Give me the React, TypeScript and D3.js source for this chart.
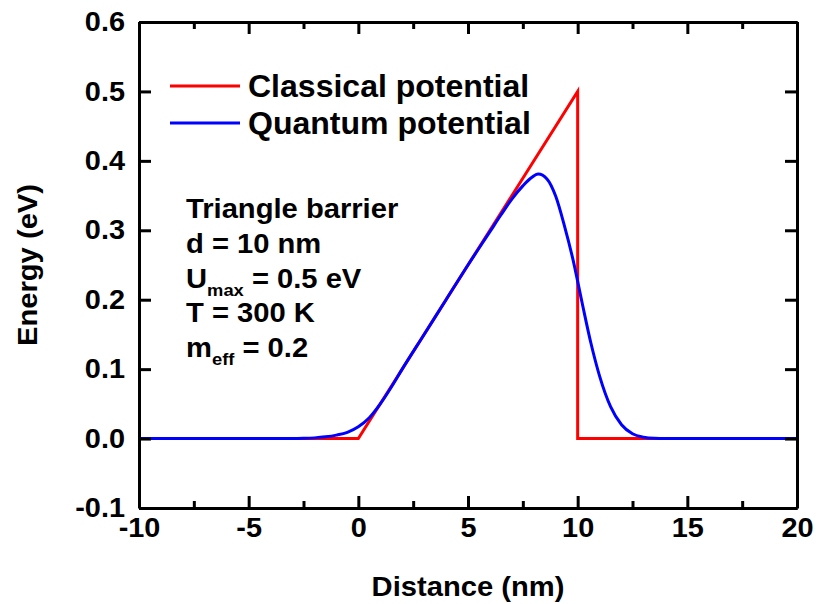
import React, {useEffect, useRef} from 'react';
import * as d3 from 'd3';

// classical triangle barrier
const classicalX = [-10, 0, 10, 10, 20];
const classicalY = [0, 0, 0.5, 0, 0];

// quantum (smoothed) potential
const quantumX = [-10, -3, -2.5, -2, -1.5, -1, -0.5, 0, 0.5, 1, 1.5, 2, 3, 4, 5, 6, 6.5, 7, 7.5, 7.9, 8.2, 8.6, 9, 9.4, 9.8, 10.2, 10.6, 11, 11.5, 12, 12.5, 13, 13.5, 14, 20];
const quantumY = [0, 0, 0.0003, 0.001, 0.0025, 0.005, 0.009, 0.017, 0.03, 0.05, 0.074, 0.1, 0.15, 0.2, 0.25, 0.298, 0.322, 0.345, 0.364, 0.376, 0.381, 0.374, 0.349, 0.306, 0.256, 0.196, 0.138, 0.09, 0.046, 0.02, 0.007, 0.002, 0.0003, 0, 0];

const xMajor = [-10, -5, 0, 5, 10, 15, 20];
const xMinor = [-7.5, -2.5, 2.5, 7.5, 12.5, 17.5];
const yMajor = [-0.1, 0, 0.1, 0.2, 0.3, 0.4, 0.5, 0.6];

const legendLabels = ["Classical potential", "Quantum potential"];
const colors = ["#ff0000", "#0000ff"];

function App() {
    const svgRef = useRef(null);

    const width = 816;
    const height = 604;
    const left = 139, right = 797, top = 22, bottom = 508;

    useEffect(() => {
        const svg = d3.select(svgRef.current);
        svg.selectAll("*").remove();

        const xScale = d3.scaleLinear().domain([-10, 20]).range([left, right]);
        const yScale = d3.scaleLinear().domain([-0.1, 0.6]).range([bottom, top]);

        const font = "'Liberation Sans', Arial, sans-serif";
        const stretch = 1.07; // the original text is a bit wider than Arial

        // lines
        const classical = classicalX.map((x, i) => [x, classicalY[i]]);
        const quantum = quantumX.map((x, i) => [x, quantumY[i]]);

        const straight = d3.line().x(d => xScale(d[0])).y(d => yScale(d[1]));
        const smooth = d3.line().x(d => xScale(d[0])).y(d => yScale(d[1])).curve(d3.curveMonotoneX);

        svg.append("path")
            .attr("d", straight(classical))
            .attr("fill", "none")
            .attr("stroke", colors[0])
            .attr("stroke-width", 3);

        svg.append("path")
            .attr("d", smooth(quantum))
            .attr("fill", "none")
            .attr("stroke", colors[1])
            .attr("stroke-width", 3);

        // axes, ticks pointing inward
        const styleAxis = (g) => {
            g.selectAll(".domain").attr("stroke", "#000").attr("stroke-width", 3);
            g.selectAll(".tick line").attr("stroke", "#000").attr("stroke-width", 3);
            g.selectAll("text")
                .attr("fill", "#000")
                .attr("font-family", font)
                .attr("font-weight", "bold")
                .attr("font-size", 27);
        };

        const xLabels = svg.append("g")
            .attr("transform", "translate(0," + bottom + ")")
            .call(d3.axisBottom(xScale).tickValues(xMajor).tickSize(-12).tickSizeOuter(0).tickPadding(10).tickFormat(d => String(d)))
            .call(styleAxis);
        xLabels.selectAll("text").attr("transform", "scale(" + stretch + ",1)");

        svg.append("g")
            .attr("transform", "translate(0," + bottom + ")")
            .call(d3.axisBottom(xScale).tickValues(xMinor).tickSize(-7).tickSizeOuter(0).tickFormat(() => ""))
            .call(styleAxis);

        svg.append("g")
            .attr("transform", "translate(0," + top + ")")
            .call(d3.axisTop(xScale).tickValues(xMajor).tickSize(-12).tickSizeOuter(0).tickFormat(() => ""))
            .call(styleAxis);
        svg.append("g")
            .attr("transform", "translate(0," + top + ")")
            .call(d3.axisTop(xScale).tickValues(xMinor).tickSize(-7).tickSizeOuter(0).tickFormat(() => ""))
            .call(styleAxis);

        const yLabels = svg.append("g")
            .attr("transform", "translate(" + left + ",0)")
            .call(d3.axisLeft(yScale).tickValues(yMajor).tickSize(-12).tickSizeOuter(0).tickPadding(14).tickFormat(d => d.toFixed(1)))
            .call(styleAxis);
        yLabels.selectAll("text").attr("transform", "translate(-14,0) scale(" + stretch + ",1) translate(14,0)");

        svg.append("g")
            .attr("transform", "translate(" + right + ",0)")
            .call(d3.axisRight(yScale).tickValues(yMajor).tickSize(-12).tickSizeOuter(0).tickFormat(() => ""))
            .call(styleAxis);

        // axis titles
        svg.append("text")
            .attr("transform", "translate(" + ((left + right) / 2) + ",596) scale(1.08,1)")
            .attr("text-anchor", "middle")
            .attr("font-family", font)
            .attr("font-weight", "bold")
            .attr("font-size", 27)
            .text("Distance (nm)");

        svg.append("text")
            .attr("transform", "translate(37," + ((top + bottom) / 2) + ") rotate(-90) scale(1.08,1)")
            .attr("text-anchor", "middle")
            .attr("font-family", font)
            .attr("font-weight", "bold")
            .attr("font-size", 27)
            .text("Energy (eV)");

        // legend
        legendLabels.forEach((label, i) => {
            const ly = 86 + i * 37;
            svg.append("line")
                .attr("x1", 170).attr("x2", 240)
                .attr("y1", ly).attr("y2", ly)
                .attr("stroke", colors[i])
                .attr("stroke-width", 3);
            svg.append("text")
                .attr("transform", "translate(248," + (ly + 11) + ") scale(1.05,1)")
                .attr("font-family", font)
                .attr("font-weight", "bold")
                .attr("font-size", 30.5)
                .text(label);
        });

        // annotation
        const notes = [
            {main: "Triangle barrier"},
            {main: "d = 10 nm"},
            {main: "U", sub: "max", rest: " = 0.5 eV"},
            {main: "T = 300 K"},
            {main: "m", sub: "eff", rest: " = 0.2"}
        ];
        notes.forEach((n, i) => {
            const t = svg.append("text")
                .attr("transform", "translate(186," + (218 + i * 34.8) + ") scale(1.08,1)")
                .attr("font-family", font)
                .attr("font-weight", "bold")
                .attr("font-size", 27);
            t.append("tspan").text(n.main);
            if (n.sub) {
                t.append("tspan").attr("font-size", 17).attr("dy", 8).text(n.sub);
                t.append("tspan").attr("dy", -8).text(n.rest);
            }
        });
    }, []);

    return (
        <svg ref={svgRef} width={width} height={height}
             style={{position: "absolute", left: 0, top: 0, background: "#fff"}}>
        </svg>
    );
}

export default App;
